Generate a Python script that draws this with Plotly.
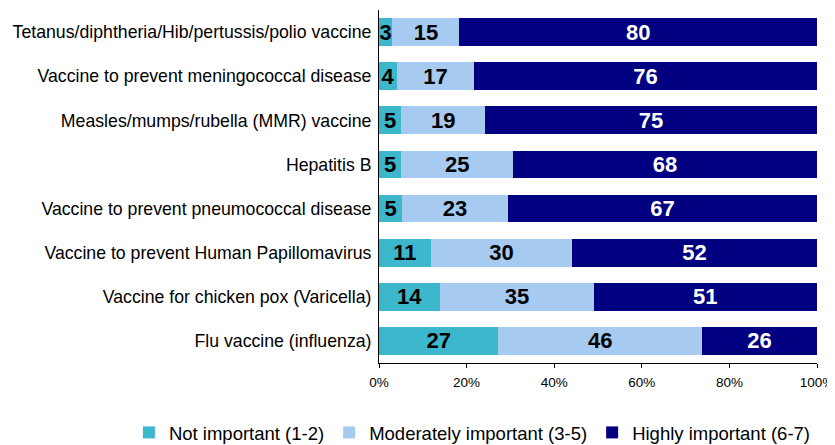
import plotly.graph_objects as go

categories = [
    "Tetanus/diphtheria/Hib/pertussis/polio vaccine",
    "Vaccine to prevent meningococcal disease",
    "Measles/mumps/rubella (MMR) vaccine",
    "Hepatitis B",
    "Vaccine to prevent pneumococcal disease",
    "Vaccine to prevent Human Papillomavirus",
    "Vaccine for chicken pox (Varicella)",
    "Flu vaccine (influenza)",
]
not_important = [3, 4, 5, 5, 5, 11, 14, 27]
moderately_important = [15, 17, 19, 25, 23, 30, 35, 46]
highly_important = [80, 76, 75, 68, 67, 52, 51, 26]
series_names = ["Not important (1-2)", "Moderately important (3-5)", "Highly important (6-7)"]
x_ticks = [0, 20, 40, 60, 80, 100]

colors = ["#3DB7CC", "#A6CAF0", "#000080"]
text_colors = ["black", "black", "white"]
FONT = "Liberation Sans, Arial, sans-serif"

fig = go.Figure()
for name, vals, c, tc in zip(series_names, [not_important, moderately_important, highly_important], colors, text_colors):
    fig.add_trace(go.Bar(
        y=categories, x=vals, name=name, orientation="h",
        marker=dict(color=c, line=dict(width=0)),
        text=[str(v) for v in vals], textposition="inside", insidetextanchor="middle",
        constraintext="none", textangle=0,
        textfont=dict(family=FONT, size=22, color=tc, weight="bold"),
        width=0.627,
    ))

# page body has an 8px margin, so the figure is 8px smaller than the window
fig.update_layout(
    barmode="stack", barnorm="percent",
    width=827, height=437,
    margin=dict(l=371, r=18, t=2, b=82, autoexpand=False),
    plot_bgcolor="white", paper_bgcolor="white",
    font=dict(family=FONT, size=17.7, color="black"),
    showlegend=True,
    legend=dict(orientation="h", x=-0.571, xanchor="left", y=-0.198, yanchor="middle",
                font=dict(size=18.5), traceorder="normal", itemwidth=30),
    xaxis=dict(range=[0, 100], tickvals=x_ticks, ticktext=[f"{t}%" for t in x_ticks],
               showgrid=False, zeroline=False, showline=True, linecolor="black", linewidth=1,
               ticks="outside", ticklen=4, tickcolor="black", tickfont=dict(size=13.5),
               ticklabelstandoff=3),
    yaxis=dict(autorange="reversed", showgrid=False, zeroline=False, showline=True,
               linecolor="black", linewidth=1, ticks="", ticklabelstandoff=3,
               tickfont=dict(size=17.7)),
    bargap=0.373,
)

fig.write_html("out.html")
